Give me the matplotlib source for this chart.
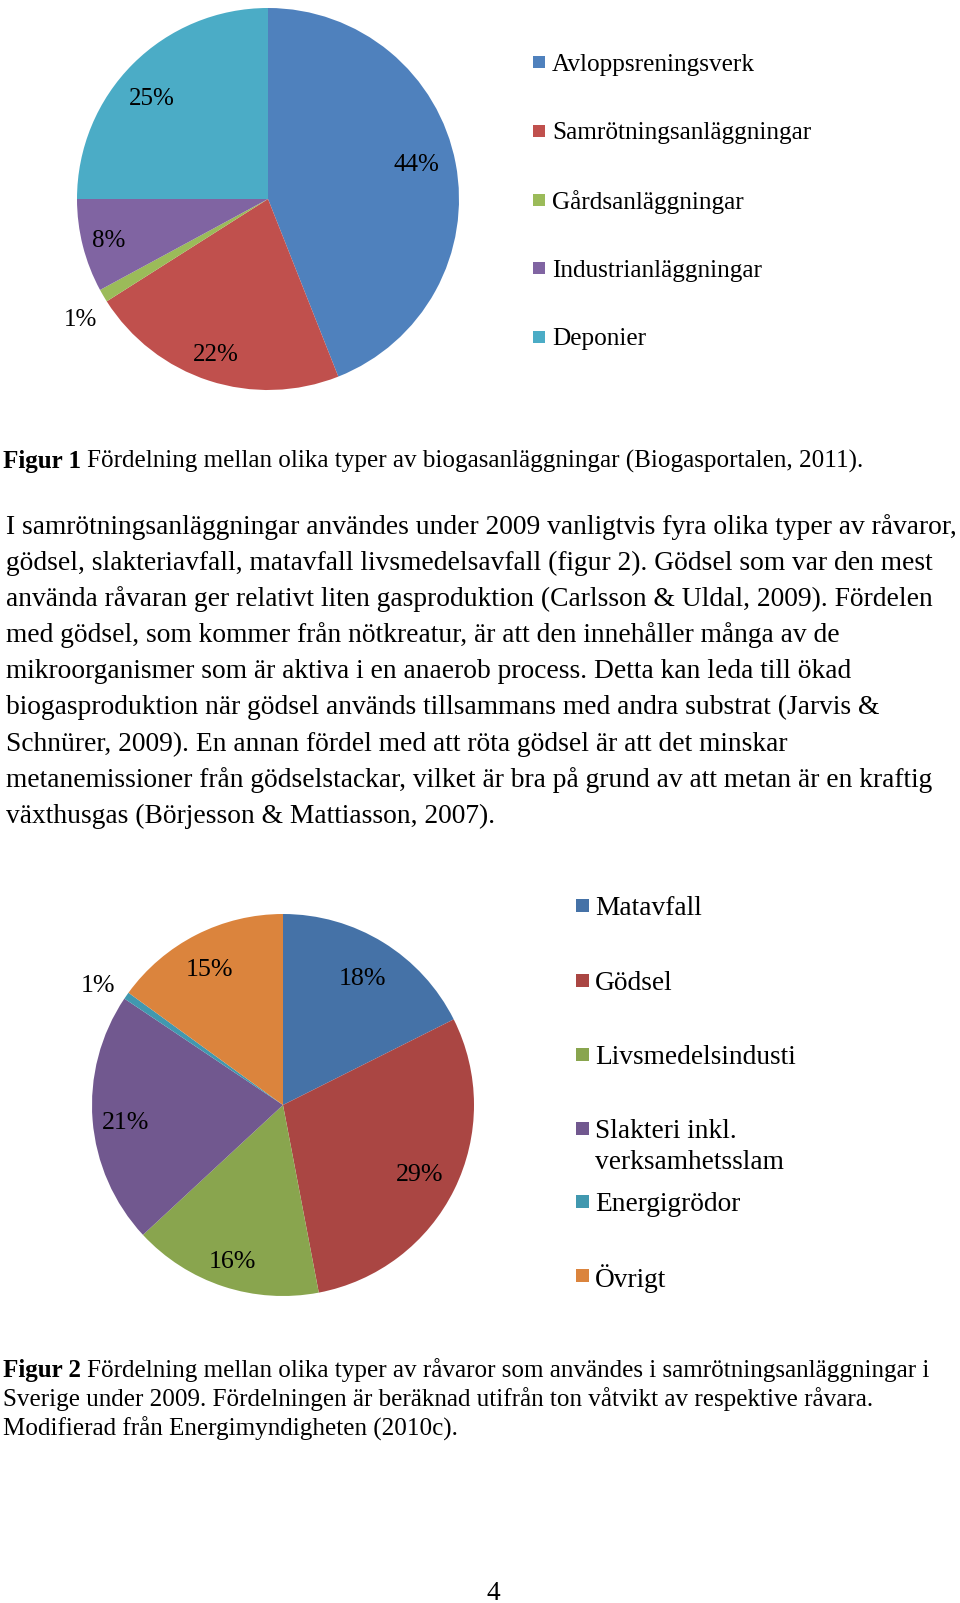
import matplotlib
matplotlib.use("Agg")
import matplotlib.pyplot as plt
from matplotlib.patches import Rectangle
import numpy as np

# ---------------- data ----------------
fig1_categories = ["Avloppsreningsverk", "Samrötningsanläggningar", "Gårdsanläggningar",
                   "Industrianläggningar", "Deponier"]
fig1_values = [44.0, 22.0, 1.1, 7.9, 25.0]
fig1_labels = ["44%", "22%", "1%", "8%", "25%"]

fig2_categories = ["Matavfall", "Gödsel", "Livsmedelsindusti",
                   "Slakteri inkl.\nverksamhetsslam", "Energigrödor", "Övrigt"]
fig2_values = [17.6, 29.4, 16.1, 21.3, 0.6, 15.0]
fig2_labels = ["18%", "29%", "16%", "21%", "1%", "15%"]

caption1_bold = "Figur 1"
caption1_text = "Fördelning mellan olika typer av biogasanläggningar (Biogasportalen, 2011)."

body_lines = [
    "I samrötningsanläggningar användes under 2009 vanligtvis fyra olika typer av råvaror,",
    "gödsel, slakteriavfall, matavfall livsmedelsavfall (figur 2). Gödsel som var den mest",
    "använda råvaran ger relativt liten gasproduktion (Carlsson & Uldal, 2009). Fördelen",
    "med gödsel, som kommer från nötkreatur, är att den innehåller många av de",
    "mikroorganismer som är aktiva i en anaerob process. Detta kan leda till ökad",
    "biogasproduktion när gödsel används tillsammans med andra substrat (Jarvis &",
    "Schnürer, 2009). En annan fördel med att röta gödsel är att det minskar",
    "metanemissioner från gödselstackar, vilket är bra på grund av att metan är en kraftig",
    "växthusgas (Börjesson & Mattiasson, 2007).",
]

caption2_bold = "Figur 2"
caption2_lines = [
    "Fördelning mellan olika typer av råvaror som användes i samrötningsanläggningar i",
    "Sverige under 2009. Fördelningen är beräknad utifrån ton våtvikt av respektive råvara.",
    "Modifierad från Energimyndigheten (2010c).",
]
page_number = "4"

# ---------------- styles ----------------
fig1_colors = ["#4F81BD", "#C0504D", "#9BBB59", "#8064A2", "#4BACC6"]
fig2_colors = ["#4572A7", "#AA4643", "#89A54E", "#71588F", "#4198AF", "#DB843D"]
# (radial distance, angular offset in degrees from wedge middle) for the labels
fig1_label_pos = [(0.80, 3.1), (0.85, -0.8), (1.16, 1.8), (0.86, -0.4), (0.81, 3.4)]
fig2_label_pos = [(0.79, 0.0), (0.80, 0.0), (0.85, 0.0), (0.827, 1.2), (1.158, 1.6), (0.815, 1.3)]

FONT = "Liberation Serif"
plt.rcParams["font.family"] = [FONT, "DejaVu Serif"]

W, H = 960, 1603
fig = plt.figure(figsize=(W / 100, H / 100), dpi=100)
fig.patch.set_facecolor("white")
renderer = fig.canvas.get_renderer()


def fx(x):
    return x / W


def fy(y):
    return 1 - y / H


def ptext(x, y, s, size, **kw):
    kw.setdefault("va", "baseline")
    kw.setdefault("ha", "left")
    return fig.text(fx(x), fy(y), s, fontsize=size, color="black", **kw)


def draw_pie(cx, cy, R, values, colors, labels, positions, size):
    ax = fig.add_axes([fx(cx - R), fy(cy + R), 2 * R / W, 2 * R / H])
    wedges, _ = ax.pie(values, colors=colors, startangle=90, counterclock=False,
                       radius=1, wedgeprops=dict(linewidth=0))
    for w, lab, (d, off) in zip(wedges, labels, positions):
        mid = np.deg2rad((w.theta1 + w.theta2) / 2 + off)
        ax.text(d * np.cos(mid), d * np.sin(mid), lab, ha="center",
                va="center_baseline", fontsize=size, clip_on=False)
    ax.set_xlim(-1, 1)
    ax.set_ylim(-1, 1)
    ax.axis("off")
    return wedges


def draw_legend(xsq, xtext, rows, cats, colors, size, sq=13, gap=31):
    for (yc, cat, col) in zip(rows, cats, colors):
        fig.add_artist(Rectangle((fx(xsq), fy(yc + sq / 2)), sq / W, sq / H,
                                 transform=fig.transFigure, facecolor=col,
                                 edgecolor="none"))
        for i, part in enumerate(cat.split("\n")):
            ptext(xtext, yc + i * gap, part, size, va="center_baseline")


# ---------------- figure 1 ----------------
draw_pie(268, 199, 191, fig1_values, fig1_colors, fig1_labels, fig1_label_pos, 18)
draw_legend(533, 552, [62, 131, 200, 268, 337], fig1_categories, fig1_colors, 18.2, sq=12)

# caption 1
CAP = 18.1
t = ptext(3, 468, caption1_bold, CAP, fontweight="bold")
bw = t.get_window_extent(renderer).width
ptext(3 + bw + 6, 468, caption1_text, CAP)

# body
BODY = 19.8
for i, line in enumerate(body_lines):
    ptext(6, 534 + 36.1 * i, line, BODY)

# ---------------- figure 2 ----------------
draw_pie(283, 1105, 191, fig2_values, fig2_colors, fig2_labels, fig2_label_pos, 18.7)
draw_legend(576, 595, [905.5, 980, 1054, 1128.5, 1201.5, 1275.5], fig2_categories,
            fig2_colors, 19.7, sq=13, gap=31)

# caption 2
t = ptext(3, 1377, caption2_bold, CAP, fontweight="bold")
bw = t.get_window_extent(renderer).width
ptext(3 + bw + 6, 1377, caption2_lines[0], CAP)
ptext(3, 1406, caption2_lines[1], CAP)
ptext(3, 1435.5, caption2_lines[2], CAP)

# page number
ptext(493, 1600, page_number, BODY, ha="center")

fig.savefig("out.png", dpi=100, facecolor="white")
